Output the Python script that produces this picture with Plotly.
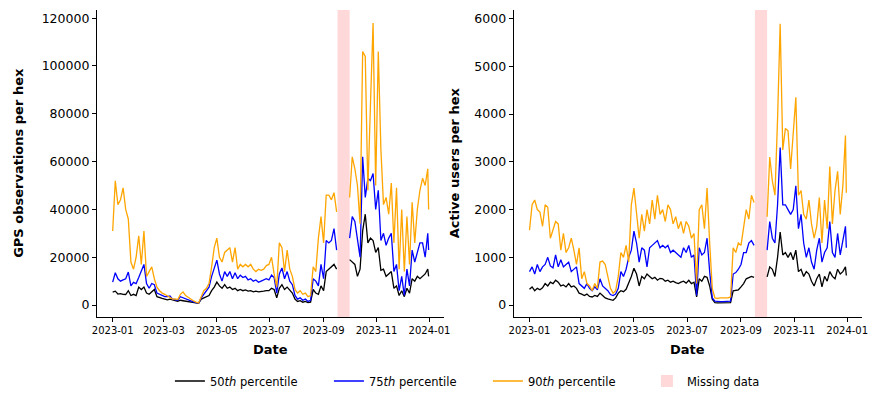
import pandas as pd
import plotly.graph_objects as go

# ---- data (every 3rd day of 2023 plus 31 Dec; None = missing data) ----
dates = list(pd.date_range("2023-01-01", "2023-12-30", freq="3D")) + [pd.Timestamp("2023-12-31")]
GAP = [None] * 4

gps_p50 = [5400, 5800, 4600, 4800, 4500, 4400, 6000, 4000, 4500, 4000,
           7500, 6500, 7500, 5000, 4500, 5500, 6500, 3500, 3000, 2800,
           2500, 2200, 2500, 2000, 1800, 1600, 2000, 1800, 1600, 1500,
           1200, 1000, 800, 700, 2500, 3000, 3200, 4000, 6000, 7500,
           9600, 8000, 7000, 8500, 7000, 7500, 6500, 7000, 6000, 6500,
           6000, 6300, 5800, 6000, 5500, 5800, 5500, 5500, 5800, 6000,
           6000, 7000, 6500, 3000, 7000, 8500, 6500, 7500, 6000, 5000,
           2500, 1500, 1800, 1200, 1500, 1000, 1200, 6500, 5000, 4500,
           8000, 6000, 14000, 15000, 16000, 17000, 15000] + GAP + [
           19000, 18000, 17000, 12000, 15000, 31000, 38000, 26000, 28000,
           27000, 22000, 24000, 14500, 15000, 12000, 13000, 14000, 7000, 8000,
           4000, 6000, 3500, 7000, 5000, 11000, 10000, 12000, 11000, 12000,
           13000, 15000, 12000]

gps_p75 = [9600, 13500, 11000, 10000, 10500, 11000, 13800, 8000, 9500, 9000,
           11500, 14000, 17000, 9000, 7000, 9000, 8500, 5000, 4500, 4000,
           3500, 3500, 3800, 2500, 2200, 2000, 3500, 3000, 2500, 2200,
           1800, 1300, 1000, 800, 3000, 4500, 5500, 7500, 12000, 15000,
           18800, 13000, 10000, 14000, 12000, 14000, 11000, 13500, 11000, 12500,
           11500, 12000, 10500, 11000, 10000, 10500, 9500, 10000, 10500, 11000,
           10500, 12500, 11500, 5000, 13000, 15500, 11000, 14000, 10000, 8500,
           4000, 2500, 3000, 2000, 2500, 1500, 2000, 11000, 10000, 8000,
           17000, 11000, 27000, 26000, 27000, 32000, 23000] + GAP + [
           28000, 37000, 35000, 27000, 20000, 62000, 45000, 53000, 52000,
           55000, 40000, 48000, 27000, 30000, 25000, 28000, 30000, 14000, 17000,
           6000, 12000, 4000, 15000, 8000, 23000, 18000, 22000, 26000, 26000,
           20000, 30000, 23000]

gps_p90 = [31000, 52000, 42000, 44000, 49000, 40000, 36000, 18000, 15000, 20000,
           29000, 17000, 31000, 12000, 14000, 16000, 11000, 7500, 6000, 5000,
           4500, 3800, 3400, 2500, 2600, 2300, 4500, 5500, 4000, 3200,
           2500, 1800, 1200, 900, 3500, 6000, 7000, 9000, 16000, 24000,
           28000, 20000, 18000, 22000, 23000, 24000, 18000, 24000, 15000, 17000,
           16000, 17000, 16000, 17000, 15000, 14000, 15000, 14500, 15000, 16500,
           17000, 20000, 13000, 7500, 26000, 24000, 14000, 23000, 15000, 12000,
           6500, 5000, 6000, 4500, 5000, 3500, 4000, 16000, 14000, 28000,
           37000, 26000, 46000, 46000, 44000, 47000, 39000] + GAP + [
           45000, 62000, 57000, 50000, 34000, 106000, 104000, 48000, 84000,
           118000, 50000, 106000, 65000, 42000, 45000, 38000, 51000, 26000, 49000,
           15000, 40000, 14000, 37000, 17000, 43000, 26000, 40000, 48000, 53000,
           50000, 57000, 40000]

users_p50 = [330, 380, 300, 350, 320, 360, 450, 400, 480, 450,
             520, 480, 400, 420, 380, 450, 380, 400, 350, 250,
             230, 200, 230, 180, 170, 200, 180, 250, 200, 150,
             130, 120, 100, 150, 250, 300, 280, 330, 450, 600,
             770, 650, 400, 600, 550, 650, 600, 550, 580, 520,
             560, 550, 500, 520, 480, 500, 470, 450, 480, 500,
             460, 520, 450, 480, 170, 550, 500, 600, 580, 400,
             120, 50, 45, 45, 45, 45, 50, 50, 300, 310,
             320, 380, 450, 550, 580, 600, 580] + GAP + [
             590, 800, 750, 600, 1000, 1530, 1050, 1100, 1000,
             1100, 950, 1150, 700, 750, 600, 700, 650, 500, 400,
             550, 650, 380, 600, 500, 700, 600, 550, 750, 650,
             700, 800, 620]

users_p75 = [700, 800, 650, 850, 700, 800, 850, 1000, 820, 780,
             1050, 800, 950, 800, 850, 900, 700, 750, 800, 450,
             400, 350, 450, 350, 300, 380, 320, 550, 400, 350,
             300, 220, 200, 230, 350, 700, 600, 750, 1000, 1150,
             1550, 1300, 900, 1200, 1150, 800, 1200, 1250, 1300, 1350,
             1200, 1250, 1200, 1250, 1100, 1150, 1100, 1050, 1000, 1200,
             1100, 1250, 1000, 1050, 200, 1200, 1050, 1100, 1400, 700,
             150, 80, 70, 70, 70, 70, 80, 80, 650, 680,
             750, 850, 1100, 1100, 1300, 1350, 1250] + GAP + [
             1150, 1750, 1400, 1300, 2100, 3300, 2100, 2100, 2000,
             1900, 2000, 2500, 1600, 1900, 1300, 1000, 1200, 900, 750,
             1150, 1400, 900, 1100, 1200, 1750, 1100, 1000, 1500, 1050,
             1350, 1650, 1200]

users_p90 = [1570, 2100, 2200, 2000, 1950, 1650, 2100, 2050, 1400, 1600,
             1750, 1700, 1150, 1500, 1100, 1200, 1400, 1150, 850, 1200,
             550, 700, 450, 400, 300, 450, 350, 900, 920, 850,
             600, 350, 250, 300, 600, 1100, 1000, 1250, 900, 2100,
             2450, 1900, 1400, 1900, 1550, 2000, 1700, 2200, 1800, 2300,
             1900, 2000, 1750, 2100, 2000, 1700, 1850, 1600, 1750, 1500,
             1750, 1650, 1400, 1500, 450, 2000, 2100, 1600, 2450, 1300,
             350, 150, 140, 150, 150, 160, 150, 170, 1200, 1100,
             1300, 1250, 1600, 2000, 1800, 2300, 2150] + GAP + [
             1850, 3100, 2600, 2300, 3900, 5890, 3250, 3700, 3650,
             2850, 3600, 4350, 2300, 2400, 1900, 1800, 2200, 1700, 1400,
             1650, 2250, 1300, 2200, 1600, 2900, 1700, 2400, 2800, 1900,
             2500, 3550, 2350]

for s in (gps_p50, gps_p75, gps_p90, users_p50, users_p75, users_p90):
    if len(s) != len(dates):
        raise ValueError(f"length {len(s)} != {len(dates)}")

series_names = ["50<i>th</i> percentile", "75<i>th</i> percentile", "90<i>th</i> percentile"]
series_colors = ["black", "blue", "orange"]
missing_start, missing_end = "2023-09-17", "2023-10-01"

x_tick_vals = ["2023-01-01", "2023-03-01", "2023-05-01", "2023-07-01",
               "2023-09-01", "2023-11-01", "2024-01-01"]
x_tick_text = ["2023-01", "2023-03", "2023-05", "2023-07", "2023-09", "2023-11", "2024-01"]
gps_ticks = [0, 20000, 40000, 60000, 80000, 100000, 120000]
users_ticks = [0, 1000, 2000, 3000, 4000, 5000, 6000]

FONT = "DejaVu Sans"
W, H = 885, 405

fig = go.Figure()
for i, vals in enumerate([gps_p50, gps_p75, gps_p90]):
    fig.add_trace(go.Scatter(x=dates, y=vals, mode="lines", name=series_names[i],
                             line=dict(color=series_colors[i], width=1.3),
                             xaxis="x", yaxis="y", legendgroup=str(i), showlegend=True))
for i, vals in enumerate([users_p50, users_p75, users_p90]):
    fig.add_trace(go.Scatter(x=dates, y=vals, mode="lines", name=series_names[i],
                             line=dict(color=series_colors[i], width=1.3),
                             xaxis="x2", yaxis="y2", legendgroup=str(i), showlegend=False))

band = "#ffd9d9"
fig.add_shape(type="rect", xref="x", yref="y domain", x0=missing_start, x1=missing_end,
              y0=0, y1=1, fillcolor=band, line=dict(width=0), layer="below",
              showlegend=True, name="Missing data")
fig.add_shape(type="rect", xref="x2", yref="y2 domain", x0=missing_start, x1=missing_end,
              y0=0, y1=1, fillcolor=band, line=dict(width=0), layer="below")

xrange = ["2022-12-13 18:00", "2024-01-18 06:00"]
common_x = dict(type="date", range=xrange, tickvals=x_tick_vals, ticktext=x_tick_text,
                showline=True, linecolor="black", linewidth=1, ticks="outside",
                ticklen=4, tickwidth=1, tickcolor="black", showgrid=False, zeroline=False,
                tickfont=dict(family=FONT, size=10, color="black"))
common_y = dict(showline=True, linecolor="black", linewidth=1, ticks="outside",
                ticklen=4, tickwidth=1, tickcolor="black", showgrid=False, zeroline=False,
                tickformat="d", tickfont=dict(family=FONT, size=12.5, color="black"),
                domain=[1 - 317 / H, 1 - 10 / H])

fig.update_layout(
    width=W, height=H, margin=dict(l=0, r=0, t=0, b=0),
    paper_bgcolor="white", plot_bgcolor="white",
    font=dict(family=FONT, color="black"),
    xaxis=dict(domain=[93 / W, 445 / W], anchor="y", **common_x),
    xaxis2=dict(domain=[515 / W, 868 / W], anchor="y2", **common_x),
    yaxis=dict(anchor="x", range=[-5000, 123400], tickvals=gps_ticks, **common_y),
    yaxis2=dict(anchor="x2", range=[-250, 6180], tickvals=users_ticks, **common_y),
    legend=dict(orientation="h", x=167 / W, xanchor="left", y=1 - 381 / H, yanchor="middle",
                font=dict(family=FONT, size=11.5, color="black"), bgcolor="rgba(0,0,0,0)",
                itemwidth=30, traceorder="normal", entrywidth=114, entrywidthmode="pixels"),
    showlegend=True,
)

ann = dict(showarrow=False, font=dict(family=FONT, size=13, color="black"))
fig.add_annotation(text="<b>GPS observations per hex</b>", xref="paper", yref="paper",
                   x=13 / W, y=1 - 163 / H, textangle=-90, xanchor="center", yanchor="middle", **ann)
fig.add_annotation(text="<b>Active users per hex</b>", xref="paper", yref="paper",
                   x=455 / W, y=1 - 163 / H, textangle=-90, xanchor="center", yanchor="middle", **ann)
fig.add_annotation(text="<b>Date</b>", xref="paper", yref="paper",
                   x=269 / W, y=1 - 349 / H, xanchor="center", yanchor="middle", **ann)
fig.add_annotation(text="<b>Date</b>", xref="paper", yref="paper",
                   x=691 / W, y=1 - 349 / H, xanchor="center", yanchor="middle", **ann)

fig.write_html("out.html")
